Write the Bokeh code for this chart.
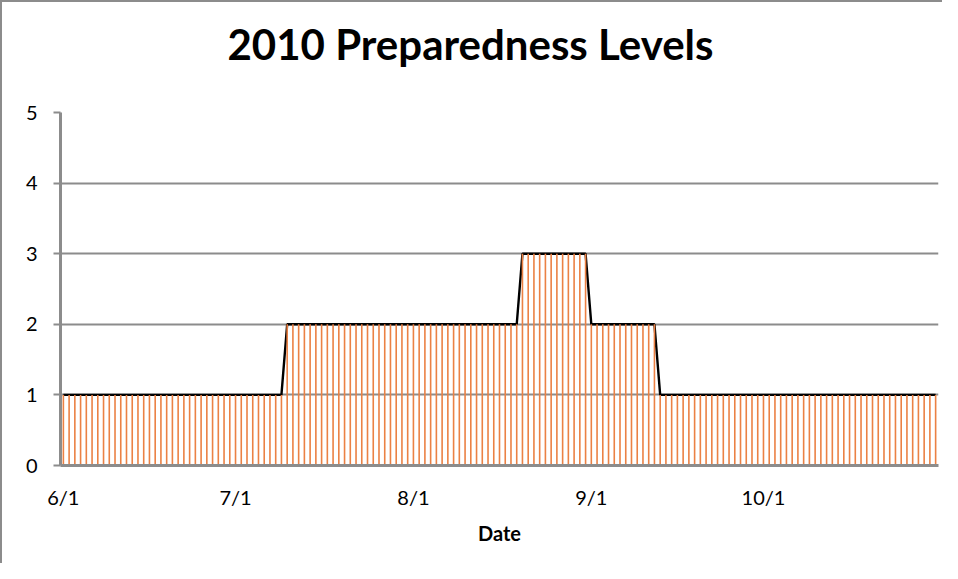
import pandas as pd
from bokeh.plotting import figure
from bokeh.models import FixedTicker, Range1d, Title
from bokeh.embed import file_html
from bokeh.resources import INLINE

# ---- data ----
start_date = "2010-06-01"
end_date = "2010-10-31"
# daily preparedness level, 6/1 .. 10/31
levels = [
    1, 1, 1, 1, 1, 1, 1, 1, 1, 1, 1, 1, 1, 1, 1, 1, 1, 1, 1, 1,   # 6/1-6/20
    1, 1, 1, 1, 1, 1, 1, 1, 1, 1,                                 # 6/21-6/30
    1, 1, 1, 1, 1, 1, 1, 1, 1, 2, 2, 2, 2, 2, 2, 2, 2, 2, 2, 2,   # 7/1-7/20
    2, 2, 2, 2, 2, 2, 2, 2, 2, 2, 2,                              # 7/21-7/31
    2, 2, 2, 2, 2, 2, 2, 2, 2, 2, 2, 2, 2, 2, 2, 2, 2, 2, 2, 3,   # 8/1-8/20
    3, 3, 3, 3, 3, 3, 3, 3, 3, 3, 3,                              # 8/21-8/31
    2, 2, 2, 2, 2, 2, 2, 2, 2, 2, 2, 2, 1, 1, 1, 1, 1, 1, 1, 1,   # 9/1-9/20
    1, 1, 1, 1, 1, 1, 1, 1, 1, 1,                                 # 9/21-9/30
    1, 1, 1, 1, 1, 1, 1, 1, 1, 1, 1, 1, 1, 1, 1, 1, 1, 1, 1, 1,   # 10/1-10/20
    1, 1, 1, 1, 1, 1, 1, 1, 1, 1, 1,                              # 10/21-10/31
]
tick_dates = ["2010-06-01", "2010-07-01", "2010-08-01", "2010-09-01", "2010-10-01"]
tick_labels = ["6/1", "7/1", "8/1", "9/1", "10/1"]
y_ticks = [0, 1, 2, 3, 4, 5]
title_text = "2010 Preparedness Levels"
x_title = "Date"

dates = pd.date_range(start_date, end_date, freq="D")
day = [(d - dates[0]).days for d in dates]
tick_pos = [(pd.Timestamp(t) - dates[0]).days for t in tick_dates]

GRAY = "#8c8c8c"
FONT = "Lato"

p = figure(width=942, height=563, output_backend="svg", toolbar_location=None,
           x_range=Range1d(-0.5, day[-1] + 0.5), y_range=Range1d(0, 5),
           min_border_left=58, min_border_right=6, min_border_top=110,
           min_border_bottom=100,
           styles={"border-top": f"2px solid {GRAY}", "border-left": f"2px solid {GRAY}"})
p.outline_line_color = None
p.background_fill_color = "white"
p.border_fill_color = "white"

# title (outermost) with an empty spacer title between it and the plot area
p.title.text = title_text
p.title.align = "left"
p.title.offset = 167
p.title.text_font = FONT
p.title.text_font_style = "bold"
p.title.text_font_size = "42px"
p.title.text_color = "black"
p.title.standoff = 20
p.add_layout(Title(text=" ", text_font_size="2px", standoff=30), "above")

# black top line, then orange daily drop lines on top
p.line(day, levels, line_color="black", line_width=2.4)
p.segment(x0=day, y0=[0] * len(day), x1=day, y1=levels,
          line_color="#EB8144", line_width=1.6)

# axes
p.xaxis.ticker = FixedTicker(ticks=tick_pos)
p.xaxis.major_label_overrides = {t: l for t, l in zip(tick_pos, tick_labels)}
p.xaxis.axis_line_color = GRAY
p.xaxis.axis_line_width = 3
p.xaxis.major_tick_line_color = None
p.xaxis.minor_tick_line_color = None
p.xaxis.major_label_standoff = 13
p.xaxis.major_label_text_font = FONT
p.xaxis.major_label_text_font_size = "20px"
p.xaxis.major_label_text_color = "black"
p.xaxis.axis_label = x_title
p.xaxis.axis_label_text_font = FONT
p.xaxis.axis_label_text_font_style = "bold"
p.xaxis.axis_label_text_font_size = "20px"
p.xaxis.axis_label_text_color = "black"
p.xaxis.axis_label_standoff = 9

p.yaxis.ticker = FixedTicker(ticks=y_ticks)
p.yaxis.axis_line_color = GRAY
p.yaxis.axis_line_width = 3
p.yaxis.major_tick_line_color = GRAY
p.yaxis.major_tick_line_width = 2
p.yaxis.major_tick_in = 0
p.yaxis.major_tick_out = 7
p.yaxis.minor_tick_line_color = None
p.yaxis.major_label_standoff = 16
p.yaxis.major_label_text_font = FONT
p.yaxis.major_label_text_font_size = "20px"
p.yaxis.major_label_text_color = "black"

p.xgrid.grid_line_color = None
p.ygrid.ticker = FixedTicker(ticks=y_ticks[1:])
p.ygrid.grid_line_color = GRAY
p.ygrid.grid_line_width = 2

open("out.html", "w").write(file_html(p, INLINE))
